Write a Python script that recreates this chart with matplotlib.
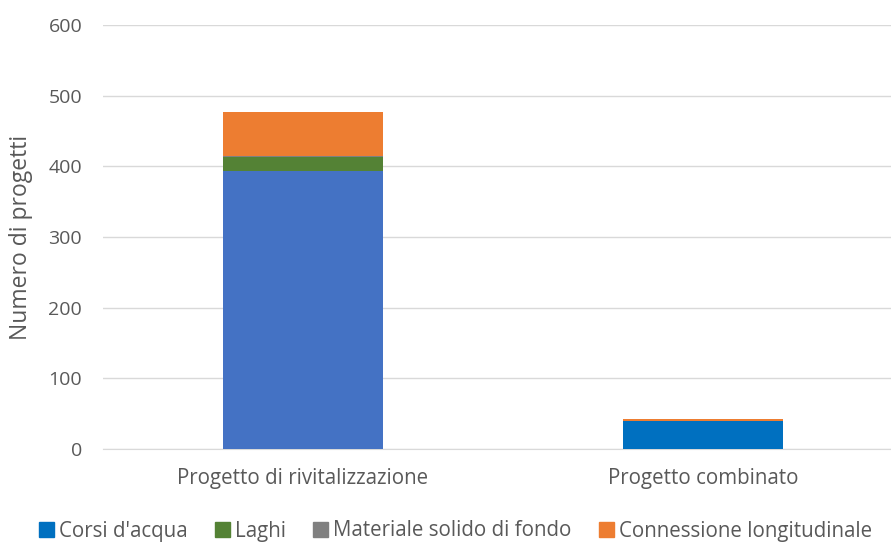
import matplotlib
matplotlib.use('Agg')
import matplotlib.pyplot as plt
import numpy as np

categories = ['Progetto di rivitalizzazione', 'Progetto combinato']
series = ["Corsi d'acqua", 'Laghi', 'Materiale solido di fondo', 'Connessione longitudinale']
corsi = [393, 40]
laghi = [20, 0]
materiale = [1.5, 0]
connessione = [63, 2]
colors = ['#0070C0', '#548235', '#808080', '#ED7D31']
bar_colors_corsi = ['#4472C4', '#0070C0']

plt.rcParams['font.family'] = ['Open Sans', 'DejaVu Sans']

fig = plt.figure(figsize=(8.91, 5.42), dpi=100)
ax = fig.add_axes([103 / 891, 1 - 449 / 542, 788 / 891, 424 / 542])

x = np.arange(len(categories))
w = 0.4
bottom = np.zeros(len(categories))
values = [corsi, laghi, materiale, connessione]
for i, (name, vals) in enumerate(zip(series, values)):
    c = bar_colors_corsi if i == 0 else colors[i]
    ax.bar(x, vals, w, bottom=bottom, color=c, zorder=3)
    bottom += np.array(vals)

ax.set_xlim(-0.5, 1.47)
ax.set_ylim(0, 600)
ax.set_yticks(range(0, 601, 100))
ax.set_xticks(x)
ax.set_xticklabels(categories, fontsize=14.8)
ax.grid(axis='y', color='#D9D9D9', linewidth=1, zorder=0)
for s in ['top', 'right', 'left']:
    ax.spines[s].set_visible(False)
ax.spines['bottom'].set_color('#D9D9D9')
ax.tick_params(axis='both', length=0, colors='#595959')
ax.tick_params(axis='y', labelsize=14, pad=15)
ax.tick_params(axis='x', pad=14)
ax.set_ylabel('Numero di progetti', fontsize=16.5, color='#595959')
ax.yaxis.set_label_coords(-70 / 788, 0.5)

handles = [plt.Rectangle((0, 0), 1, 1, color=c) for c in colors]
fig.legend(handles, series, loc='center', bbox_to_anchor=(0.5 + 10 / 891, 1 - 531 / 542),
           ncol=4, frameon=False, fontsize=14.8, labelcolor='#595959',
           handlelength=0.75, handleheight=0.75, handletextpad=0.25, columnspacing=1.3,
           borderpad=0)

fig.savefig('out.png', dpi=100)
